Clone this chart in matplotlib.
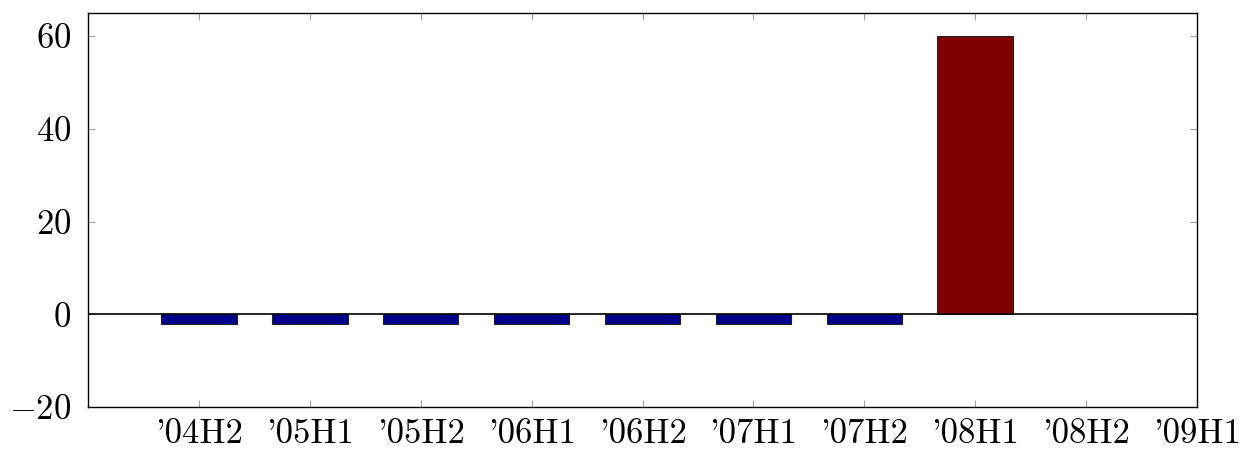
import matplotlib
matplotlib.use("Agg")
import matplotlib.pyplot as plt

categories = ["'04H2", "'05H1", "'05H2", "'06H1", "'06H2", "'07H1", "'07H2", "'08H1", "'08H2", "'09H1"]
neg_values = [-2, -2, -2, -2, -2, -2, -2, None, None, None]
pos_values = [None, None, None, None, None, None, None, 60, None, None]

plt.rcParams['font.family'] = 'serif'
plt.rcParams['font.serif'] = ['cmr10']
plt.rcParams['mathtext.fontset'] = 'cm'
plt.rcParams['axes.formatter.use_mathtext'] = True

fig = plt.figure(figsize=(12.52, 4.50), dpi=100)
ax = fig.add_axes([88/1252, 1-407/450, (1197-88)/1252, (407-13)/450])

xs = list(range(1, len(categories) + 1))
nx = [x for x, v in zip(xs, neg_values) if v is not None]
nv = [v for v in neg_values if v is not None]
px = [x for x, v in zip(xs, pos_values) if v is not None]
pv = [v for v in pos_values if v is not None]

ax.bar(nx, nv, width=0.68, color='#00008b', edgecolor='#222222', linewidth=0.8, zorder=2)
ax.bar(px, pv, width=0.68, color='#800000', edgecolor='#222222', linewidth=0.8, zorder=2)
ax.axhline(0, color='black', linewidth=1.2, zorder=3)

ax.set_xlim(0, 10)
ax.set_ylim(-20, 65)
ax.set_xticks(xs)
ax.set_xticklabels(categories)
ax.set_yticks([-20, 0, 20, 40, 60])
ax.set_yticklabels(['$-20$', '$0$', '$20$', '$40$', '$60$'])
ax.tick_params(direction='in', length=5, width=0.6, color='#888888',
               top=True, right=True, labelsize=25)
ax.tick_params(axis='x', pad=8)
ax.tick_params(axis='y', pad=12)
for s in ax.spines.values():
    s.set_linewidth(1.0)

fig.savefig("out.png", dpi=100)
